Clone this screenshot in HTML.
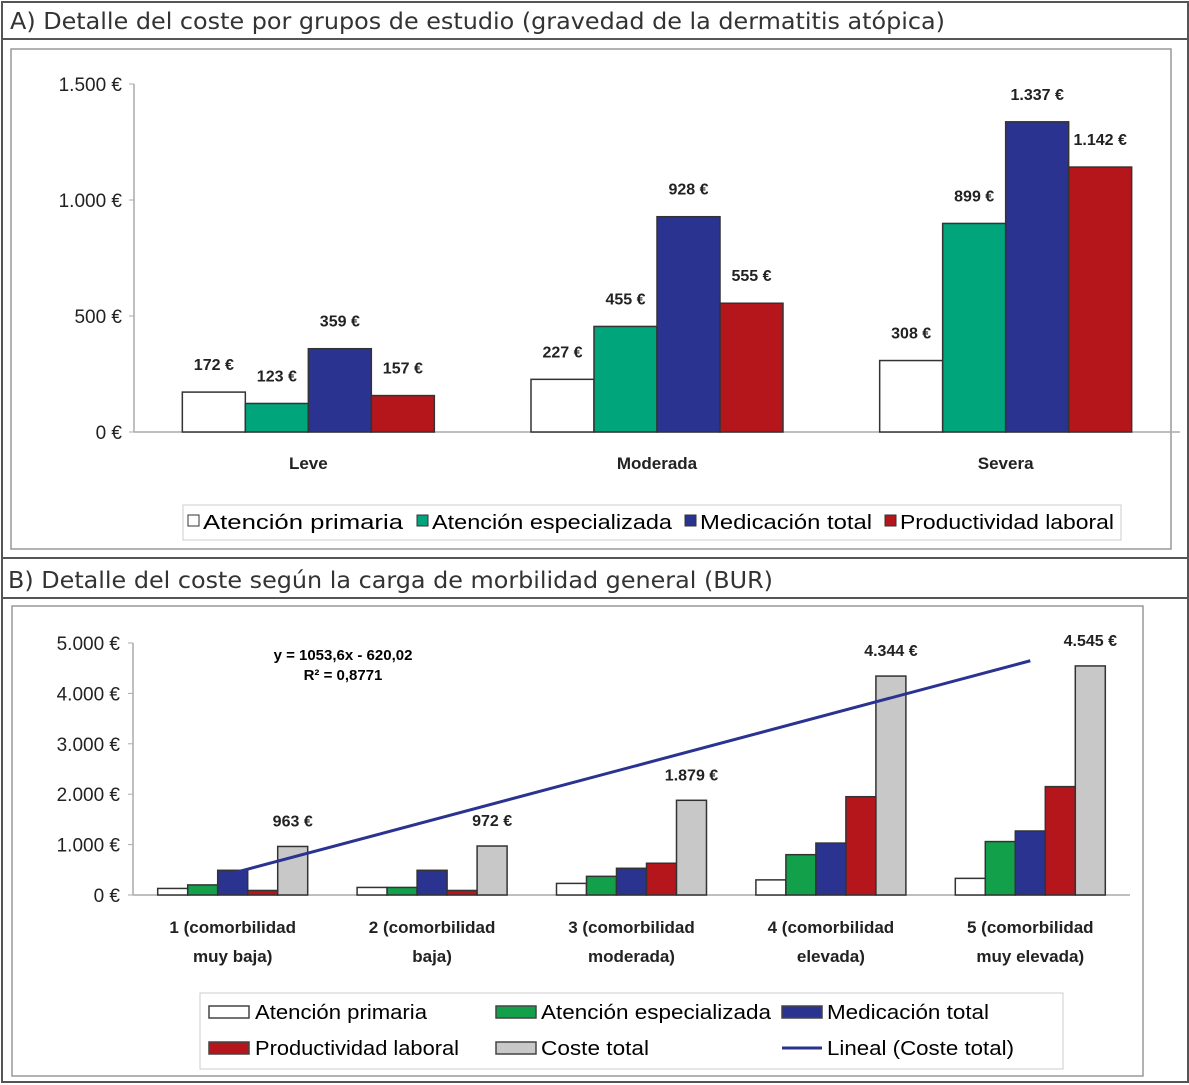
<!DOCTYPE html>
<html><head><meta charset="utf-8"><style>
html,body{margin:0;padding:0;background:#fff;}
svg{display:block;font-family:"Liberation Sans",Arial,sans-serif;}
.t{font-family:"DejaVu Sans","Liberation Sans",sans-serif;}
</style></head><body>
<svg id="s" width="1189" height="1085" viewBox="0 0 1189 1085" xmlns="http://www.w3.org/2000/svg">
<rect x="0" y="0" width="1189" height="1085" fill="#fff"/>
<rect x="2" y="2" width="1186" height="1080" fill="none" stroke="#555" stroke-width="2"/>
<line x1="2" y1="39" x2="1189" y2="39" stroke="#555" stroke-width="2"/>
<line x1="2" y1="558" x2="1189" y2="558" stroke="#555" stroke-width="2"/>
<line x1="2" y1="598" x2="1189" y2="598" stroke="#555" stroke-width="2"/>
<text x="10" y="29" font-size="23" fill="#333" class="t" textLength="935" lengthAdjust="spacingAndGlyphs">A) Detalle del coste por grupos de estudio (gravedad de la dermatitis atópica)</text>
<text x="8" y="588" font-size="23" fill="#333" class="t" textLength="765" lengthAdjust="spacingAndGlyphs">B) Detalle del coste según la carga de morbilidad general (BUR)</text>
<rect x="11" y="49" width="1160" height="500" fill="none" stroke="#999" stroke-width="1.5"/>
<rect x="12" y="606" width="1131" height="470" fill="none" stroke="#999" stroke-width="1.5"/>
<g id="ga"></g>
<g id="gb"></g>
<g>
<rect x="183" y="505" width="938" height="35" fill="#fff" stroke="#ccc"/>
<rect x="188" y="515" width="11" height="11" fill="#fff" stroke="#333"/>
<text x="203" y="529" font-size="20" textLength="200" lengthAdjust="spacingAndGlyphs">Atención primaria</text>
<rect x="417" y="515" width="11" height="11" fill="#00a57b" stroke="#333"/>
<text x="432" y="529" font-size="20" textLength="240" lengthAdjust="spacingAndGlyphs">Atención especializada</text>
<rect x="685" y="515" width="11" height="11" fill="#2b3390" stroke="#333"/>
<text x="700" y="529" font-size="20" textLength="172" lengthAdjust="spacingAndGlyphs">Medicación total</text>
<rect x="885" y="515" width="11" height="11" fill="#b5161c" stroke="#333"/>
<text x="900" y="529" font-size="20" textLength="214" lengthAdjust="spacingAndGlyphs">Productividad laboral</text>
</g>
<g>
<rect x="200" y="993" width="863" height="76" fill="#fff" stroke="#ccc"/>
<rect x="209" y="1006" width="40" height="12" fill="#fff" stroke="#444" stroke-width="1.5"/>
<text x="255" y="1019" font-size="20" textLength="172" lengthAdjust="spacingAndGlyphs">Atención primaria</text>
<rect x="496" y="1006" width="40" height="12" fill="#12a04a" stroke="#444" stroke-width="1.5"/>
<text x="541" y="1019" font-size="20" textLength="230" lengthAdjust="spacingAndGlyphs">Atención especializada</text>
<rect x="782" y="1006" width="40" height="12" fill="#2b3390" stroke="#444" stroke-width="1.5"/>
<text x="827" y="1019" font-size="20" textLength="162" lengthAdjust="spacingAndGlyphs">Medicación total</text>
<rect x="209" y="1042" width="40" height="12" fill="#b5161c" stroke="#444" stroke-width="1.5"/>
<text x="255" y="1055" font-size="20" textLength="204" lengthAdjust="spacingAndGlyphs">Productividad laboral</text>
<rect x="496" y="1042" width="40" height="12" fill="#c8c8c8" stroke="#444" stroke-width="1.5"/>
<text x="541" y="1055" font-size="20" textLength="108" lengthAdjust="spacingAndGlyphs">Coste total</text>
<line x1="782" y1="1048" x2="822" y2="1048" stroke="#2b3390" stroke-width="3"/>
<text x="827" y="1055" font-size="20" textLength="187" lengthAdjust="spacingAndGlyphs">Lineal (Coste total)</text>
</g>
<text x="343" y="660" font-size="15" font-weight="bold" text-anchor="middle">y = 1053,6x - 620,02</text>
<text x="343" y="680" font-size="15" font-weight="bold" text-anchor="middle">R² = 0,8771</text>
</svg>
<script>
const NS='http://www.w3.org/2000/svg';
const catsA=['Leve','Moderada','Severa'];
const apA=[172,227,308];
const aeA=[123,455,899];
const medA=[359,928,1337];
const prodA=[157,555,1142];
const labelsA=[['172 €','227 €','308 €'],['123 €','455 €','899 €'],['359 €','928 €','1.337 €'],['157 €','555 €','1.142 €']];
const ticksA=[0,500,1000,1500];
const tickLabelsA=['0 €','500 €','1.000 €','1.500 €'];

const catsB=[['1 (comorbilidad','muy baja)'],['2 (comorbilidad','baja)'],['3 (comorbilidad','moderada)'],['4 (comorbilidad','elevada)'],['5 (comorbilidad','muy elevada)']];
const apB=[130,150,230,300,330];
const aeB=[200,150,370,800,1060];
const medB=[490,490,530,1030,1270];
const prodB=[90,90,630,1950,2150];
const totB=[963,972,1879,4344,4545];
const totLabelsB=['963 €','972 €','1.879 €','4.344 €','4.545 €'];
const ticksB=[0,1000,2000,3000,4000,5000];
const tickLabelsB=['0 €','1.000 €','2.000 €','3.000 €','4.000 €','5.000 €'];
const slope=1053.6, intercept=-620.02;

function mk(tag,attrs,parent,txt){const e=document.createElementNS(NS,tag);for(const k in attrs)e.setAttribute(k,attrs[k]);if(txt!==undefined)e.textContent=txt;parent.appendChild(e);return e;}

(function(){
const g=document.getElementById('ga');
const x0=134,x1=1180,y0=432,yTop=84,maxV=1500;
const cw=(x1-x0)/catsA.length, bw=63;
const y=v=>y0-(v/maxV)*(y0-yTop);
const cx=i=>x0+cw*(i+0.5);
let ax=mk('line',{x1:x0,y1:yTop,x2:x0,y2:y0,stroke:'#aaa','stroke-width':1.5},g);


let bx=mk('line',{x1:x0,y1:y0,x2:x1,y2:y0,stroke:'#aaa','stroke-width':1.5},g);


ticksA.forEach((t,i)=>{
 mk('line',{x1:x0-5,y1:y(t),x2:x0,y2:y(t),stroke:'#aaa'},g);
 const tl=mk('text',{x:x0-12,y:y(t)+7,'font-size':19,'text-anchor':'end',fill:'#222'},g,tickLabelsA[i]);
 
 
});
const series=[apA,aeA,medA,prodA], cols=['#fff','#00a57b','#2b3390','#b5161c'], names=['atencion-primaria','atencion-especializada','medicacion-total','productividad-laboral'];
catsA.forEach((c,i)=>{
 series.forEach((s,j)=>{
  const bx0=cx(i)-2*bw+j*bw;
  const r=mk('rect',{x:bx0,y:y(s[i]),width:bw,height:y0-y(s[i]),fill:cols[j],stroke:'#333','stroke-width':1.5},g);
  
  
  const l=mk('text',{x:bx0+bw/2,y:y(s[i])-22,'font-size':16,'font-weight':'bold','text-anchor':'middle',fill:'#222'},g,labelsA[j][i]);
  
  
 });
 const cl=mk('text',{x:cx(i),y:469,'font-size':17,'font-weight':'bold','text-anchor':'middle',fill:'#222'},g,c);
 
 
});
})();

(function(){
const g=document.getElementById('gb');
const x0=133,x1=1130,y0=895,yTop=643,maxV=5000;
const cw=(x1-x0)/catsB.length, bw=30;
const y=v=>y0-(v/maxV)*(y0-yTop);
const cx=i=>x0+cw*(i+0.5);
let ax=mk('line',{x1:x0,y1:yTop,x2:x0,y2:y0,stroke:'#aaa','stroke-width':1.5},g);


let bx=mk('line',{x1:x0,y1:y0,x2:x1,y2:y0,stroke:'#aaa','stroke-width':1.5},g);


ticksB.forEach((t,i)=>{
 mk('line',{x1:x0-5,y1:y(t),x2:x0,y2:y(t),stroke:'#aaa'},g);
 const tl=mk('text',{x:x0-13,y:y(t)+7,'font-size':19,'text-anchor':'end',fill:'#222'},g,tickLabelsB[i]);
 
 
});
const series=[apB,aeB,medB,prodB,totB], cols=['#fff','#12a04a','#2b3390','#b5161c','#c8c8c8'], names=['atencion-primaria','atencion-especializada','medicacion-total','productividad-laboral','coste-total'];
catsB.forEach((c,i)=>{
 series.forEach((s,j)=>{
  const bx0=cx(i)-2.5*bw+j*bw;
  const r=mk('rect',{x:bx0,y:y(s[i]),width:bw,height:y0-y(s[i]),fill:cols[j],stroke:'#333','stroke-width':1.5},g);
  
  
 });
 const l=mk('text',{x:cx(i)+2*bw,y:y(totB[i])-20,'font-size':16,'font-weight':'bold','text-anchor':'middle',fill:'#222'},g,totLabelsB[i]);
 
 
 const c1=mk('text',{x:cx(i),y:933,'font-size':17,'font-weight':'bold','text-anchor':'middle',fill:'#222'},g,c[0]);
 
 
 const c2=mk('text',{x:cx(i),y:962,'font-size':17,'font-weight':'bold','text-anchor':'middle',fill:'#222'},g,c[1]);
 
 
});
const tl=mk('line',{x1:cx(0),y1:y(slope*1+intercept),x2:cx(4),y2:y(slope*5+intercept),stroke:'#2b3390','stroke-width':3},g);


})();
</script>
</body></html>
